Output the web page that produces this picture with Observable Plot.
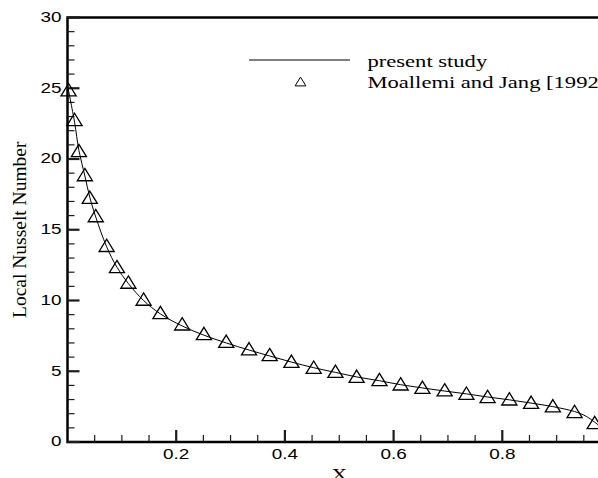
<!DOCTYPE html>
<html>
<head>
<meta charset="utf-8">
<script src="https://cdn.jsdelivr.net/npm/d3@7"></script>
<script src="https://cdn.jsdelivr.net/npm/@observablehq/plot@0.6"></script>
<style>
  body { margin: 0; background: #fff; overflow: hidden; }
  #chart svg { display: block; }
</style>
</head>
<body>
<div id="chart"></div>
<script>
// Moallemi and Jang [1992] (triangles)
const moallemiX = [0.002, 0.013, 0.021, 0.032, 0.041, 0.052, 0.072, 0.091, 0.112, 0.140, 0.171,
  0.211, 0.251, 0.292, 0.334, 0.372, 0.412, 0.453, 0.493, 0.532, 0.574, 0.613, 0.653,
  0.694, 0.734, 0.773, 0.813, 0.853, 0.893, 0.933, 0.970];
const moallemiY = [24.9, 22.8, 20.6, 18.9, 17.3, 16.0, 13.9, 12.4, 11.3, 10.1, 9.15,
  8.35, 7.67, 7.12, 6.59, 6.18, 5.71, 5.29, 5.00, 4.65, 4.42, 4.11, 3.87,
  3.69, 3.45, 3.22, 3.05, 2.81, 2.56, 2.16, 1.38];

// present study (solid line)
const studyX = [0.0, 0.013, 0.021, 0.032, 0.041, 0.052, 0.072, 0.091, 0.112, 0.140, 0.171,
  0.211, 0.251, 0.292, 0.334, 0.372, 0.412, 0.453, 0.493, 0.532, 0.574, 0.613, 0.653,
  0.694, 0.734, 0.773, 0.813, 0.853, 0.893, 0.933, 0.955, 0.980];
const studyY = [25.2, 22.6, 20.6, 18.8, 17.3, 15.9, 13.8, 12.35, 11.2, 10.0, 9.05,
  8.2, 7.55, 7.0, 6.5, 6.08, 5.65, 5.25, 4.92, 4.6, 4.33, 4.05, 3.82,
  3.6, 3.4, 3.18, 2.98, 2.75, 2.5, 2.15, 1.8, 1.1];

const yTicks = [0, 5, 10, 15, 20, 25, 30];
const yMinorTicks = [1,2,3,4,6,7,8,9,11,12,13,14,16,17,18,19,21,22,23,24,26,27,28,29];
const xTicks = [0.2, 0.4, 0.6, 0.8];
const xMinorTicks = [0.05,0.1,0.15,0.25,0.3,0.35,0.45,0.5,0.55,0.65,0.7,0.75,0.85,0.9,0.95];
const legendLabels = ["present study", "Moallemi and Jang [1992]"];
const xTitle = "X";
const yTitle = "Local Nusselt Number";

const W = 598, H = 478;
const mL = 67, mT = 17, mB = 36.5, mR = -12.5;
const sans = "Liberation Sans, Arial, sans-serif";
const serif = "Liberation Serif, Times New Roman, serif";

const triangle = {
  draw(ctx, size) {
    const r = Math.sqrt(size / Math.PI);
    const w = 2.7 * r, h = 2.2 * r;
    ctx.moveTo(0, -h / 2);
    ctx.lineTo(w / 2, h / 2);
    ctx.lineTo(-w / 2, h / 2);
    ctx.closePath();
  }
};
// tick glyphs: a short stroke pointing into the plot, length = 2r
const tickRight = {draw(ctx, size) { const r = Math.sqrt(size / Math.PI); ctx.moveTo(0, 0); ctx.lineTo(2 * r, 0); }};
const tickUp = {draw(ctx, size) { const r = Math.sqrt(size / Math.PI); ctx.moveTo(0, 0); ctx.lineTo(0, -2 * r); }};

const study = studyX.map((x, i) => ({x, y: studyY[i]}));
const moallemi = moallemiX.map((x, i) => ({x, y: moallemiY[i]}));

const legendLine = (index, scales, values, dims) => d3.create("svg:line")
  .attr("x1", dims.marginLeft + 182).attr("x2", dims.marginLeft + 283)
  .attr("y1", dims.marginTop + 43).attr("y2", dims.marginTop + 43)
  .attr("stroke", "black").attr("stroke-width", 1).node();

const ink = "#000";
const tickInk = "#1c1c1c";

const chart = Plot.plot({
  width: W, height: H,
  marginLeft: mL, marginRight: mR, marginTop: mT, marginBottom: mB,
  style: {overflow: "hidden", background: "white", color: "black"},
  x: {domain: [0, 1], axis: null},
  y: {domain: [0, 30], axis: null},
  marks: [
    Plot.frame({stroke: ink, fill: "none", strokeWidth: 2.5}),
    Plot.dot(yMinorTicks, {x: () => 0, y: d => d, symbol: tickRight, r: 3.5, stroke: tickInk, strokeWidth: 1.2, fill: "none"}),
    Plot.dot(yTicks, {x: () => 0, y: d => d, symbol: tickRight, r: 6, stroke: tickInk, strokeWidth: 2.2, fill: "none"}),
    Plot.dot(xMinorTicks, {x: d => d, y: () => 0, symbol: tickUp, r: 3.5, stroke: tickInk, strokeWidth: 1.2, fill: "none"}),
    Plot.dot(xTicks, {x: d => d, y: () => 0, symbol: tickUp, r: 6, stroke: tickInk, strokeWidth: 2.2, fill: "none"}),
    Plot.axisY(yTicks, {tickSize: 0, tickPadding: 6, fontSize: 14, fontFamily: sans, label: null}),
    Plot.axisX(xTicks, {tickSize: 0, tickPadding: 7, fontSize: 14, fontFamily: sans, label: null, tickFormat: d => String(d)}),
    Plot.line(study, {x: "x", y: "y", curve: "catmull-rom", stroke: ink, strokeWidth: 1}),
    Plot.dot(moallemi, {x: "x", y: "y", symbol: triangle, r: 5.6, stroke: ink, strokeWidth: 1.3, fill: "none"}),
    legendLine,
    Plot.text([legendLabels[0]], {text: d => d, frameAnchor: "top-left", dx: 300, dy: 44, textAnchor: "start", lineAnchor: "middle", fontSize: 16, fontFamily: serif, fill: ink}),
    Plot.text([legendLabels[1]], {text: d => d, frameAnchor: "top-left", dx: 300, dy: 65, textAnchor: "start", lineAnchor: "middle", fontSize: 16, fontFamily: serif, fill: ink}),
    Plot.dot([0], {frameAnchor: "top-left", dx: 233, dy: 64, symbol: triangle, r: 4, stroke: ink, strokeWidth: 1, fill: "none"}),
    Plot.text([xTitle], {text: d => d, frameAnchor: "bottom", dy: 33, textAnchor: "middle", lineAnchor: "middle", fontSize: 16, fontFamily: serif, fill: ink}),
    Plot.text([yTitle], {text: d => d, frameAnchor: "left", dx: -48, rotate: -90, textAnchor: "middle", lineAnchor: "middle", fontSize: 19.5, fontFamily: serif, fill: ink})
  ]
});

document.getElementById("chart").append(chart);

// the reference renders horizontal text stretched sideways
chart.querySelectorAll("text").forEach(t => {
  if (t.textContent === yTitle) return;
  const k = legendLabels.includes(t.textContent) ? 1.41 : 1.35;
  const len = t.getComputedTextLength();
  t.setAttribute("textLength", len * k);
  t.setAttribute("lengthAdjust", "spacingAndGlyphs");
});
</script>
</body>
</html>
